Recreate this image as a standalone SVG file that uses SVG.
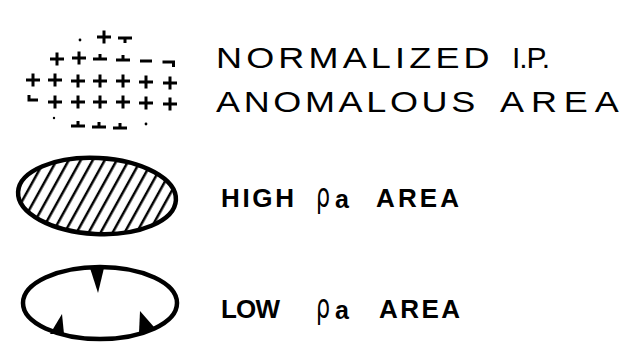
<svg xmlns="http://www.w3.org/2000/svg" width="640" height="350" viewBox="0 0 640 350">
<style>
.lbl{font-family:"Liberation Sans",Arial,sans-serif;font-size:30px;fill:#000}
.bold{font-weight:bold;font-size:26px}
.rho{font-family:"DejaVu Sans","Liberation Sans",sans-serif;font-size:34px}
.a{font-weight:bold;font-size:25px}
.mk{stroke:#000;stroke-width:3;fill:none;stroke-linecap:butt}
.ol{fill:none;stroke:#000;stroke-width:4.5}
</style>
<defs>
<path id="p" class="mk" d="M-7,0H7M0,-6.5V6.5"/>
<path id="t" class="mk" d="M-7,0H7M0,0V5"/>
<path id="b" class="mk" d="M-7,0H7M0,0V-5"/>
<path id="h" class="mk" d="M-6,0H6"/>
<path id="r" class="mk" d="M-5.5,0H5.5V5"/>
<path id="l" class="mk" d="M-5,-5V0H4"/>
<pattern id="hatch" patternUnits="userSpaceOnUse" width="10.5" height="10" patternTransform="rotate(26)">
<line x1="5" y1="0" x2="5" y2="10" stroke="#000" stroke-width="2.5"/>
</pattern>
</defs>
<g id="ip-symbol">
<circle cx="80" cy="40" r="1.4"/>
<use href="#p" x="104" y="37"/>
<use href="#t" x="125" y="38"/>
<use href="#p" x="57" y="59"/>
<use href="#p" x="79" y="58"/>
<use href="#b" x="100" y="59"/>
<use href="#b" x="123" y="60"/>
<use href="#h" x="146" y="61"/>
<use href="#r" x="168" y="62"/>
<use href="#p" x="33" y="80"/>
<use href="#p" x="55" y="80"/>
<use href="#p" x="78" y="81"/>
<use href="#p" x="100" y="81"/>
<use href="#p" x="123" y="81"/>
<use href="#p" x="146" y="82"/>
<use href="#p" x="170" y="83"/>
<use href="#l" x="34" y="100"/>
<use href="#p" x="55" y="102"/>
<use href="#p" x="78" y="102"/>
<use href="#p" x="100" y="102"/>
<use href="#p" x="123" y="102"/>
<use href="#p" x="146" y="103"/>
<use href="#p" x="170" y="104"/>
<circle cx="54" cy="118" r="1.2"/>
<use href="#b" x="78" y="126"/>
<use href="#b" x="99" y="127"/>
<use href="#b" x="120" y="128"/>
<circle cx="146" cy="124" r="1.4"/>
</g>
<g id="ip-label">
<text class="lbl" transform="translate(216,68) scale(1.2,1)" textLength="228" lengthAdjust="spacing">NORMALIZED</text>
<text class="lbl" x="512" y="68" textLength="38" lengthAdjust="spacing">I.P.</text>
<text class="lbl" transform="translate(216,112) scale(1.2,1)" textLength="216" lengthAdjust="spacing">ANOMALOUS</text>
<text class="lbl" transform="translate(500,112) scale(1.2,1)" textLength="99" lengthAdjust="spacing">AREA</text>
</g>
<g id="high-symbol">
<ellipse cx="97" cy="196" rx="78" ry="37" fill="url(#hatch)" transform="rotate(3 97 196)"/>
<ellipse class="ol" cx="97" cy="196" rx="79" ry="38" transform="rotate(3 97 196)"/>
</g>
<g id="high-label">
<text class="lbl bold" x="221" y="207" textLength="73" lengthAdjust="spacing">HIGH</text>
<text class="lbl rho" transform="translate(316,207) scale(0.65,1)">ρ</text>
<text class="lbl a" x="335" y="208">a</text>
<text class="lbl bold" x="376" y="207" textLength="83" lengthAdjust="spacing">AREA</text>
</g>
<g id="low-symbol">
<ellipse class="ol" cx="100" cy="303" rx="77" ry="36"/>
<path d="M90,268 L104,268 L98,293 Z" fill="#000"/>
<path d="M62,314 L64,334 L50,334 Z" fill="#000"/>
<path d="M140,311 L154,327 L139,333 Z" fill="#000"/>
</g>
<g id="low-label">
<text class="lbl bold" x="221" y="318" textLength="59" lengthAdjust="spacing">LOW</text>
<text class="lbl rho" transform="translate(316,318) scale(0.65,1)">ρ</text>
<text class="lbl a" x="335" y="319">a</text>
<text class="lbl bold" x="379" y="318" textLength="81" lengthAdjust="spacing">AREA</text>
</g>
</svg>
